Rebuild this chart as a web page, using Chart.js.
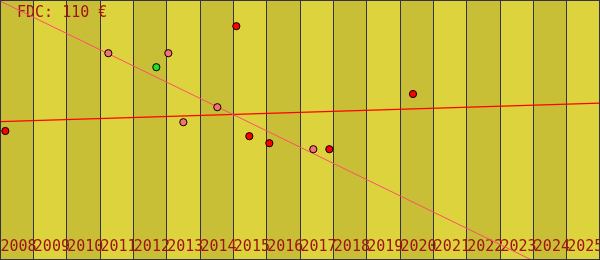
<!DOCTYPE html>
<html>
<head>
<meta charset="utf-8">
<script src="https://cdn.jsdelivr.net/npm/chart.js@4/dist/chart.umd.min.js"></script>
<style>
    html, body { margin: 0; padding: 0; background: #ffffff; }
    #priceChart { display: block; }
</style>
</head>
<body>
<canvas id="priceChart" width="600" height="260"></canvas>
<script>
// years shown along the bottom
const years = [2008, 2009, 2010, 2011, 2012, 2013, 2014, 2015, 2016,
               2017, 2018, 2019, 2020, 2021, 2022, 2023, 2024, 2025];

// observed prices (decimal year, euro)
const saleDates  = [2008.16, 2011.25, 2012.69, 2013.05, 2013.50, 2014.52,
                    2015.09, 2015.48, 2016.08, 2017.40, 2017.88, 2020.39];
const salePrices = [114.5, 153.4, 146.4, 153.4, 118.9, 126.4,
                    166.9, 111.9, 108.4, 105.4, 105.4, 133.0];
const saleKinds  = ['sold', 'asked', 'own', 'asked', 'asked', 'asked',
                    'sold', 'sold', 'sold', 'asked', 'sold', 'sold'];

// two fitted lines, value at first and last edge of the range
const trendEnds   = [119.2, 128.4];
const declineEnds = [179.5, 33.4];

const title = 'FDC: 110 €';

const kindColors = { sold: '#ff0000', asked: '#f87070', own: '#22e022' };
const textColor = '#a01414';
const monoFont = '"DejaVu Sans Mono", "Liberation Mono", monospace';

const xMin = years[0];
const xMax = years[years.length - 1] + 1;

const backdrop = {
    id: 'backdrop',
    beforeDraw(chart) {
        const ctx = chart.ctx;
        const x = chart.scales.x;
        const area = chart.chartArea;
        ctx.save();
        years.forEach((yr, i) => {
            const left = x.getPixelForValue(yr);
            const right = x.getPixelForValue(yr + 1);
            ctx.fillStyle = i % 2 === 0 ? '#c9bf37' : '#ddd33d';
            ctx.fillRect(left, area.top, right - left, area.bottom - area.top);
        });
        ctx.restore();
    },
    beforeDatasetsDraw(chart) {
        const ctx = chart.ctx;
        const x = chart.scales.x;
        ctx.save();
        ctx.fillStyle = textColor;
        ctx.textBaseline = 'alphabetic';
        ctx.font = '15px ' + monoFont;
        years.forEach(yr => {
            ctx.fillText(String(yr), x.getPixelForValue(yr) + 0.5, 250.5);
        });
        ctx.fillText(title, 17, 16.5);
        ctx.restore();
    },
    afterDraw(chart) {
        const ctx = chart.ctx;
        ctx.save();
        ctx.strokeStyle = '#333344';
        ctx.lineWidth = 1;
        ctx.strokeRect(0.5, 0.5, chart.width - 1, chart.height - 1);
        ctx.restore();
    }
};

new Chart(document.getElementById('priceChart'), {
    type: 'scatter',
    data: {
        datasets: [
            {
                type: 'line',
                data: [{ x: xMin, y: trendEnds[0] }, { x: xMax, y: trendEnds[1] }],
                borderColor: '#ff0000',
                borderWidth: 1.2,
                pointRadius: 0,
                order: 3
            },
            {
                type: 'line',
                data: [{ x: xMin, y: declineEnds[0] }, { x: xMax, y: declineEnds[1] }],
                borderColor: '#ff4d6d',
                borderWidth: 1,
                pointRadius: 0,
                order: 2
            },
            {
                data: saleDates.map((d, i) => ({ x: d, y: salePrices[i] })),
                backgroundColor: saleKinds.map(k => kindColors[k]),
                borderColor: '#000000',
                borderWidth: 1,
                pointRadius: 3.6,
                order: 1
            }
        ]
    },
    options: {
        responsive: false,
        devicePixelRatio: 1,
        animation: false,
        layout: { padding: 0, autoPadding: false },
        plugins: {
            legend: { display: false },
            tooltip: { enabled: false }
        },
        scales: {
            x: {
                type: 'linear',
                min: xMin,
                max: xMax,
                ticks: { display: false, stepSize: 1 },
                grid: { color: '#333344', lineWidth: 1, drawTicks: false },
                border: { display: false }
            },
            y: {
                display: false,
                min: 50,
                max: 180
            }
        }
    },
    plugins: [backdrop]
});
</script>
</body>
</html>
